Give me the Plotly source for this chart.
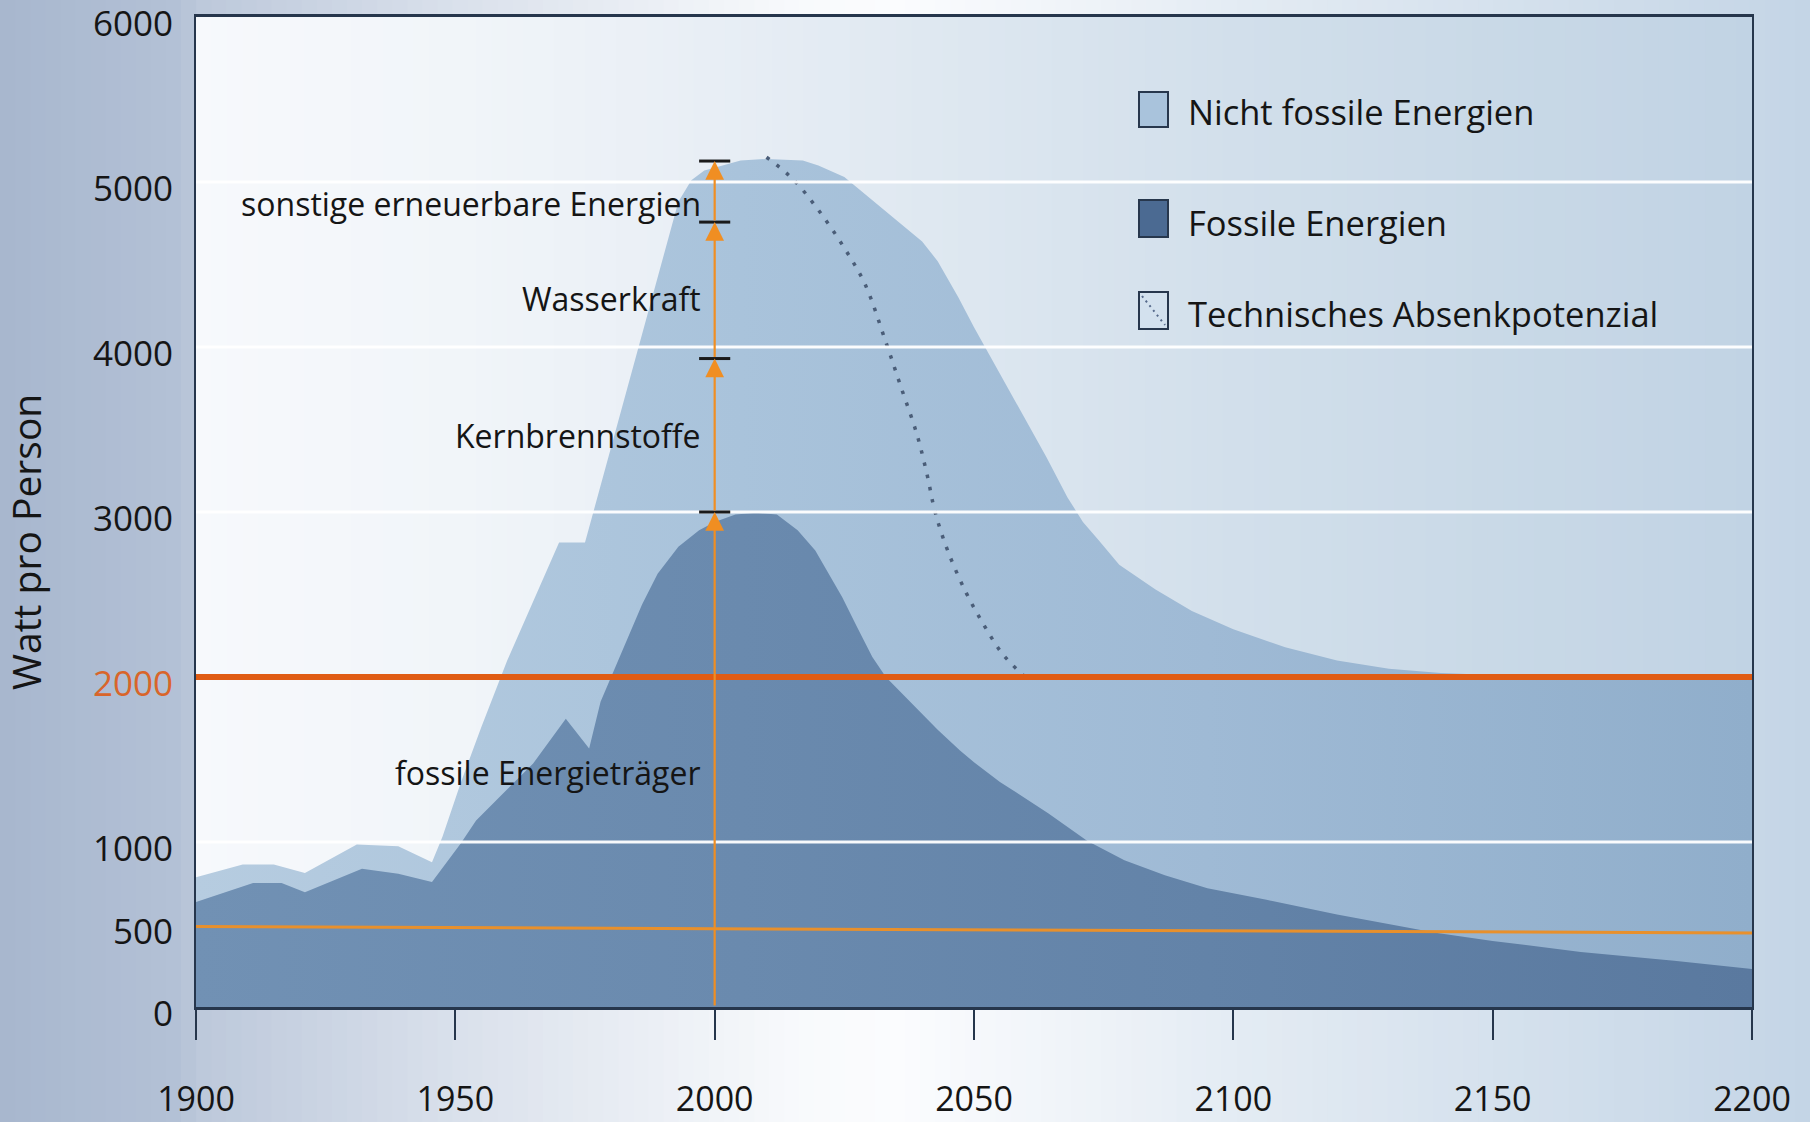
import plotly.graph_objects as go

# ---------------- data ----------------
years_total = [1900, 1909, 1915, 1921, 1931, 1939, 1945.5, 1947.5, 1951, 1955, 1960, 1965,
               1970, 1975, 1980, 1985, 1988, 1990, 1993, 1995.5, 1998, 2001, 2005, 2010, 2017,
               2020, 2025, 2030, 2035, 2040, 2043, 2047, 2050, 2055, 2060, 2064, 2068,
               2071, 2074, 2078, 2085, 2092, 2100, 2110, 2120, 2130, 2140, 2150, 2170, 2200]
total_watt = [787, 864, 864, 812, 985, 975, 878, 1030, 1355, 1696, 2100, 2460,
              2815, 2815, 3390, 3965, 4310, 4540, 4880, 5010, 5070, 5095, 5130, 5140, 5130,
              5100, 5030, 4900, 4770, 4640, 4520, 4300, 4120, 3840, 3560, 3330, 3090,
              2940, 2830, 2680, 2530, 2400, 2290, 2180, 2100, 2050, 2025, 2012, 2004, 2000]

years_fossil = [1900, 1911, 1916.5, 1921, 1932, 1939, 1945.5, 1951, 1954, 1960, 1965, 1971.3,
                1975.8, 1978, 1980, 1983, 1986, 1989, 1993, 1997, 2000, 2004, 2008, 2012,
                2016, 2019.4, 2022, 2024.6, 2027.5, 2030.4, 2033, 2038.8, 2043, 2047.3, 2050,
                2055, 2060, 2064.3, 2071.8, 2079, 2086.8, 2095, 2106.4, 2120, 2139, 2150,
                2167, 2185, 2200]
fossil_watt = [636, 751, 751, 696, 838, 808, 757, 990, 1131, 1320, 1476, 1747,
               1567, 1850, 2000, 2222, 2440, 2626, 2790, 2890, 2940, 2985, 2995, 2985,
               2890, 2767, 2630, 2484, 2300, 2121, 2000, 1818, 1680, 1555, 1483,
               1364, 1260, 1175, 1007, 890, 798, 720, 650, 560, 450, 400,
               334, 280, 230]

years_absenk = [2010, 2015, 2020, 2025, 2029, 2033, 2036, 2039, 2041, 2042.5, 2045, 2048.5,
                2052, 2055.5, 2059.5]
absenk_watt = [5150, 5020, 4830, 4600, 4380, 4030, 3750, 3470, 3220, 3000, 2760, 2510,
               2310, 2140, 2010]

ziel_watt = 2000                      # 2000-Watt line
linie500_years = [1900, 2000, 2100, 2200]
linie500_watt = [488, 473, 460, 448]

jahr_2000 = 2000
stufen_2000 = [0, 3000, 3930, 4757, 5127]   # boundaries of the energy mix in 2000
stufen_labels = ["fossile Energieträger", "Kernbrennstoffe", "Wasserkraft",
                 "sonstige erneuerbare Energien"]
stufen_label_y = [1420, 3463, 4296, 4870]

x_ticks = [1900, 1950, 2000, 2050, 2100, 2150, 2200]
y_ticks = [0, 500, 1000, 2000, 3000, 4000, 5000, 6000]
grid_levels = [1000, 3000, 4000, 5000]

legend_names = ["Nicht fossile Energien", "Fossile Energien", "Technisches Absenkpotenzial"]

# ---------------- helpers ----------------
def h2r(h):
    h = h.lstrip('#')
    return tuple(int(h[i:i + 2], 16) for i in (0, 2, 4))


def interp(stops, v):
    for (a, ca), (b, cb) in zip(stops[:-1], stops[1:]):
        if a <= v <= b:
            t = (v - a) / (b - a) if b > a else 0
            ra, rb = h2r(ca), h2r(cb)
            c = [round(ra[i] + (rb[i] - ra[i]) * t) for i in range(3)]
            return 'rgb(%d,%d,%d)' % tuple(c)
    return stops[-1][1]


W, H = 1810, 1122
L, R, T, B = 196, 58, 17, 115
PW, PH = W - L - R, H - T - B


def px_to_paper_x(px):
    return (px - L) / PW


def py_to_paper_y(py):
    return (H - B - py) / PH


shapes = []

# figure background gradient
paper_stops = [(0, '#a7b7ce'), (180, '#b3c1d6'), (196, '#bcc8da'), (450, '#d9e0eb'),
               (800, '#f8fafc'), (900, '#fbfcfe'), (1250, '#e3ebf3'), (1810, '#c4d5e6')]
n = 120
for i in range(n):
    x0 = W * i / n
    x1 = W * (i + 1) / n + 1
    shapes.append(dict(type='rect', xref='paper', yref='paper', layer='below',
                       x0=px_to_paper_x(x0), x1=px_to_paper_x(x1),
                       y0=py_to_paper_y(H + 2), y1=py_to_paper_y(-2),
                       fillcolor=interp(paper_stops, (x0 + x1) / 2), line=dict(width=0)))

# plot-area background gradient
plot_stops = [(1900, '#f7f9fc'), (1950, '#f1f5f9'), (2000, '#e8eef5'), (2050, '#dde7f0'),
              (2100, '#d2dfeb'), (2150, '#c9d9e7'), (2200, '#c1d3e4')]
m = 100
for i in range(m):
    y0 = 1900 + 300 * i / m
    y1 = 1900 + 300 * (i + 1) / m
    shapes.append(dict(type='rect', xref='x', yref='paper', layer='below',
                       x0=y0, x1=min(y1 + 0.4, 2200), y0=0, y1=1,
                       fillcolor=interp(plot_stops, (y0 + y1) / 2), line=dict(width=0)))

# white gridlines above the areas
for g in grid_levels:
    shapes.append(dict(type='line', xref='paper', yref='y', layer='above',
                       x0=0, x1=1, y0=g, y1=g, line=dict(color='rgba(255,255,255,0.95)', width=3)))

# 500 W line and 2000 W line
shapes.append(dict(type='line', xref='x', yref='y', layer='above',
                   x0=linie500_years[0], y0=linie500_watt[0],
                   x1=linie500_years[-1], y1=linie500_watt[-1],
                   line=dict(color='#e8902c', width=3)))
shapes.append(dict(type='line', xref='paper', yref='y', layer='above',
                   x0=0, x1=1, y0=ziel_watt, y1=ziel_watt,
                   line=dict(color='#e05c14', width=6)))

# black bars at the boundaries in 2000
for v in stufen_2000[1:]:
    shapes.append(dict(type='line', xref='x', yref='y', layer='above',
                       x0=jahr_2000 - 3, x1=jahr_2000 + 3, y0=v, y1=v,
                       line=dict(color='#1a1a1a', width=3)))

# manual legend
leg_x0, leg_x1 = px_to_paper_x(1139), px_to_paper_x(1168)
leg_rows = [(92, 127, 112), (200, 237, 222), (292, 329, 313)]
leg_fill = ['#a9c3dc', '#4b6a92', '#d3e1ee']
for (ya, yb, yc), fc in zip(leg_rows, leg_fill):
    shapes.append(dict(type='rect', xref='paper', yref='paper', layer='above',
                       x0=leg_x0, x1=leg_x1, y0=py_to_paper_y(yb), y1=py_to_paper_y(ya),
                       fillcolor=fc, line=dict(color='#27374d', width=2)))
ya, yb, _ = leg_rows[2]
shapes.append(dict(type='line', xref='paper', yref='paper', layer='above',
                   x0=px_to_paper_x(1142), y0=py_to_paper_y(ya + 4),
                   x1=px_to_paper_x(1165), y1=py_to_paper_y(yb - 4),
                   line=dict(color='#55698a', width=2, dash='2px,4px')))

# ---------------- traces ----------------
fig = go.Figure()
fig.add_trace(go.Scatter(
    x=years_total, y=total_watt, mode='lines', name=legend_names[0],
    fill='tozeroy', line=dict(width=0, color='#a8c2da'),
    fillgradient=dict(type='horizontal',
                      colorscale=[[0, '#b6cce0'], [0.35, '#a9c3db'], [0.65, '#9fbad5'], [1, '#90aecb']]),
    showlegend=False, hoverinfo='skip'))
fig.add_trace(go.Scatter(
    x=years_fossil, y=fossil_watt, mode='lines', name=legend_names[1],
    fill='tozeroy', line=dict(width=0, color='#6a8aae'),
    fillgradient=dict(type='horizontal',
                      colorscale=[[0, '#7191b4'], [0.35, '#6a8aae'], [0.65, '#6383a8'], [1, '#5a799f']]),
    showlegend=False, hoverinfo='skip'))
fig.add_trace(go.Scatter(
    x=years_absenk, y=absenk_watt, mode='lines', name=legend_names[2],
    line=dict(color='#4a5d78', width=3.5, dash='3.5px,9px', shape='spline'),
    showlegend=False, hoverinfo='skip'))

# ---------------- annotations ----------------
ann = []
for lo, hi in zip(stufen_2000[:-1], stufen_2000[1:]):
    ann.append(dict(x=jahr_2000, y=hi, ax=jahr_2000, ay=lo, xref='x', yref='y',
                    axref='x', ayref='y', text='', showarrow=True, arrowhead=2,
                    arrowsize=1.7, arrowwidth=2.2, arrowcolor='#f08e22', standoff=0))
for lab, yv in zip(stufen_labels, stufen_label_y):
    ann.append(dict(x=jahr_2000, y=yv, xref='x', yref='y', text=lab, showarrow=False,
                    xanchor='right', yanchor='middle', xshift=-12,
                    font=dict(family='Open Sans', size=32, color='#151515')))
for name, (_, _, yc) in zip(legend_names, leg_rows):
    ann.append(dict(x=px_to_paper_x(1186), y=py_to_paper_y(yc), xref='paper', yref='paper',
                    text=name, showarrow=False, xanchor='left', yanchor='middle',
                    font=dict(family='Open Sans', size=34.5, color='#151515')))
ann.append(dict(x=px_to_paper_x(25), y=py_to_paper_y(542), xref='paper', yref='paper',
                text='Watt pro Person', textangle=-90, showarrow=False,
                xanchor='center', yanchor='middle',
                font=dict(family='Open Sans', size=39, color='#151515')))

y_ticktext = ["<span style='color:#d9652a'>%d</span>" % v if v == ziel_watt else str(v)
              for v in y_ticks]

fig.update_layout(
    width=W, height=H,
    margin=dict(l=L, r=R, t=T, b=B, autoexpand=False),
    paper_bgcolor='#d0dbe8', plot_bgcolor='rgba(0,0,0,0)',
    shapes=shapes, annotations=ann, showlegend=False,
    font=dict(family='Open Sans', color='#151515'),
    xaxis=dict(range=[1900, 2200], tickvals=x_ticks, ticktext=[str(v) for v in x_ticks],
               ticks='outside', ticklen=30, tickwidth=1.5, tickcolor='#26364c',
               showline=True, linewidth=2.5, linecolor='#26364c', mirror=True,
               showgrid=False, zeroline=False, ticklabelstandoff=30, automargin=False,
               ticklabeloverflow='allow',
               tickfont=dict(family='Open Sans', size=34, color='#151515')),
    yaxis=dict(range=[0, 6000], tickvals=y_ticks, ticktext=y_ticktext,
               ticks='', showline=True, linewidth=2, linecolor='#26364c', mirror=True,
               showgrid=False, zeroline=False, ticklabelstandoff=14, automargin=False,
               ticklabeloverflow='allow', ticklabelshift=7,
               tickfont=dict(family='Open Sans', size=35, color='#151515')),
)

fig.write_html("out.html",
               config={'displayModeBar': False},
               post_script="document.body.style.margin='0px';"
                           "document.body.style.overflow='hidden';"
                           "document.body.style.background='#aebdd2';")
